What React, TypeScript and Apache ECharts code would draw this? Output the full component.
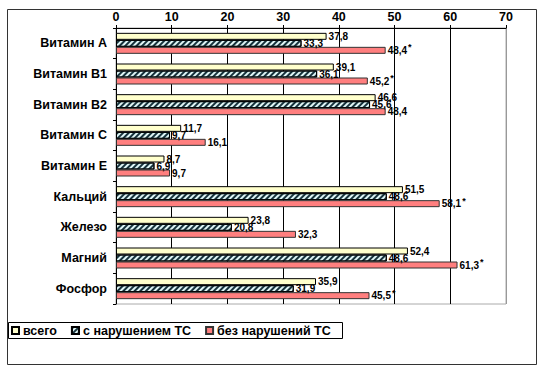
import React, { useEffect, useRef } from "react";
import * as echarts from "echarts";

const categories = ["Витамин А", "Витамин В1", "Витамин В2", "Витамин С", "Витамин Е", "Кальций", "Железо", "Магний", "Фосфор"];
const seriesNames = ["всего", "с нарушением ТС", "без нарушений ТС"];
const totalValues = [37.8, 39.1, 46.6, 11.7, 8.7, 51.5, 23.8, 52.4, 35.9];
const violationValues = [33.3, 36.1, 45.6, 9.7, 6.9, 48.6, 20.8, 48.6, 31.9];
const noViolationValues = [48.4, 45.2, 48.4, 16.1, 9.7, 58.1, 32.3, 61.3, 45.5];
const significant = [true, true, false, false, false, true, false, true, true];
const xTicks = [0, 10, 20, 30, 40, 50, 60, 70];

const FONT = 'Arial, "Liberation Sans", sans-serif';

export default function App() {
  const ref = useRef<HTMLDivElement>(null);
  useEffect(() => {
    if (!ref.current) return;
    const chart = echarts.init(ref.current, null, { renderer: "svg" });
    const fmt = (v: number) => String(v.toFixed(1)).replace(".", ",");
    const labelBase = {
      show: true,
      position: "right" as const,
      distance: 2,
      fontFamily: FONT,
      fontSize: 10,
      fontWeight: "bold" as const,
      color: "#000",
    };
    chart.setOption({
      animation: false,
      backgroundColor: "#fff",
      graphic: [
        {
          type: "rect",
          shape: { x: 7.5, y: 9.5, width: 529, height: 355 },
          style: { fill: "none", stroke: "#333", lineWidth: 1 },
          z: 0,
        },
        {
          type: "rect",
          shape: { x: 8.5, y: 322.5, width: 334, height: 16 },
          style: { fill: "#fff", stroke: "#000", lineWidth: 1 },
          z: 0,
        },
      ],
      grid: {
        left: 116,
        top: 28,
        width: 390,
        height: 276,
        show: true,
        borderColor: "#aaa",
        borderWidth: 1,
        backgroundColor: "transparent",
      },
      legend: {
        left: 11,
        top: 324,
        itemWidth: 7,
        itemHeight: 7,
        itemGap: 14,
        icon: "rect",
        padding: 0,
        textStyle: { fontFamily: FONT, fontSize: 12.5, fontWeight: "bold", color: "#000", padding: [0, 0, 0, -1] },
        data: seriesNames,
      },
      xAxis: {
        type: "value",
        position: "top",
        min: 0,
        max: 70,
        interval: 10,
        axisLine: { show: true, lineStyle: { color: "#000", width: 1 } },
        axisTick: { show: true, length: 3, lineStyle: { color: "#000" } },
        axisLabel: {
          fontFamily: FONT,
          fontSize: 12.5,
          fontWeight: "bold",
          color: "#000",
          margin: 5,
          formatter: (v: number) => (xTicks.includes(v) ? String(v) : ""),
        },
        splitLine: {
          show: true,
          lineStyle: { color: ["#000", "#000", "#000", "#000", "#000", "#000", "#000", "#999"], width: 1 },
        },
      },
      yAxis: {
        type: "category",
        inverse: true,
        data: categories,
        axisLine: { show: true, lineStyle: { color: "#000", width: 1 } },
        axisTick: { show: true, length: 3, lineStyle: { color: "#000" } },
        axisLabel: {
          fontFamily: FONT,
          fontSize: 12.5,
          fontWeight: "bold",
          color: "#000",
          margin: 9,
        },
      },
      series: [
        {
          name: seriesNames[0],
          type: "bar",
          data: totalValues,
          barWidth: 7,
          barGap: "0%",
          itemStyle: { color: "#FFFFCC", borderColor: "#000", borderWidth: 1 },
          label: { ...labelBase, formatter: (p: any) => fmt(p.value) },
        },
        {
          name: seriesNames[1],
          type: "bar",
          data: violationValues,
          barWidth: 7,
          barGap: "0%",
          itemStyle: {
            color: "#dff5f5",
            borderColor: "#000",
            borderWidth: 1,
            decal: {
              symbol: "rect",
              symbolSize: 1,
              dashArrayX: [1, 0],
              dashArrayY: [1.5, 1.5],
              rotation: -Math.PI / 4,
              color: "#16323c",
              backgroundColor: "#dff5f5",
            },
          },
          label: { ...labelBase, formatter: (p: any) => fmt(p.value) },
        },
        {
          name: seriesNames[2],
          type: "bar",
          data: noViolationValues,
          barWidth: 7,
          barGap: "0%",
          itemStyle: { color: "#FF7F7F", borderColor: "#333", borderWidth: 1 },
          label: {
            ...labelBase,
            formatter: (p: any) =>
              significant[p.dataIndex] ? `{v|${fmt(p.value)}}{s|*}` : `{v|${fmt(p.value)}}`,
            rich: {
              v: { fontFamily: FONT, fontSize: 10, fontWeight: "bold", color: "#000" },
              s: { fontFamily: FONT, fontSize: 9, fontWeight: "bold", color: "#000", padding: [0, 0, 6, 1] },
            },
          },
        },
      ],
    });
    return () => chart.dispose();
  }, []);
  return (
    <div
      ref={ref}
      style={{ position: "absolute", left: 0, top: 0, width: 548, height: 378 }}
    />
  );
}
